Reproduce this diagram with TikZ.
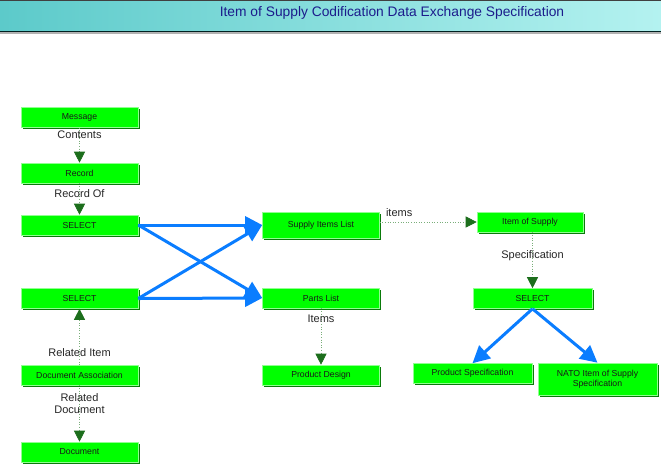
\documentclass[tikz,border=0pt]{standalone}
\usepackage{fontspec}
\setmainfont{Liberation Sans}
\usetikzlibrary{arrows.meta,shadows}

\definecolor{boxgreen}{HTML}{00FF00}
\definecolor{boxrim}{HTML}{90FF90}
\definecolor{boxshadow}{HTML}{0A7A0A}
\definecolor{linkgreen}{HTML}{7AAE7A}
\definecolor{headgreen}{HTML}{1C6E1C}
\definecolor{selblue}{HTML}{0A7DFF}
\definecolor{titleblue}{HTML}{1C1C8C}
\definecolor{barleft}{HTML}{5CCACA}
\definecolor{barright}{HTML}{B4F2F0}

\tikzset{
	entity/.style={rectangle, fill=boxgreen, draw=boxrim, line width=.6pt,
		minimum width=117pt, minimum height=20pt, inner sep=1pt, align=center,
		font=\fontsize{8.7}{9.6}\selectfont, text=black!90,
		drop shadow={shadow xshift=1.6pt, shadow yshift=-1.6pt, fill=boxshadow, opacity=1}},
	relation/.style={linkgreen, dotted, line width=.6pt,
		-{Triangle[width=11pt,length=11pt,color=headgreen]}},
	choice/.style={selblue, line width=3pt,
		-{Triangle[width=17pt,length=17pt]}},
	rolename/.style={font=\fontsize{11}{12.5}\selectfont, text=black!85, inner sep=1pt, align=center}
}

\begin{document}
\begin{tikzpicture}[x=1pt,y=-1pt]
		\useasboundingbox (0,0) rectangle (661,467);
		\fill [white] (0,0) rectangle (661,467);
		% title bar
		\shade [left color=barleft, right color=barright] (0,1) rectangle (661,31);
		\fill [black!75] (0,0) rectangle (661,1.2);
		\fill [black!75!teal] (0,30.5) rectangle (661,32);
		\fill [black!30] (0,32) rectangle (661,33.5);
		\node [font=\fontsize{13.8}{15}\selectfont, text=titleblue] (title) at (392,13) {Item of Supply Codification Data Exchange Specification};

		\node [entity] (message)  at (79.5,117.5) {Message};
		\node [entity] (record)   at (79.5,173)   {Record};
		\node [entity] (select1)  at (79.5,225)   {SELECT};
		\node [entity] (select2)  at (79.5,298.5) {SELECT};
		\node [entity] (docassoc) at (79.5,375)   {Document Association};
		\node [entity] (document) at (79.5,452)   {Document};

		\node [entity, minimum height=26pt] (supply) at (321,225) {Supply Items List};
		\node [entity] (parts)  at (321,298)   {Parts List};
		\node [entity] (design) at (321,375)   {Product Design};

		\node [entity, minimum width=106pt] (ios) at (530,222) {Item of Supply};
		\node [entity, minimum width=119pt] (select3) at (532.5,298.5) {SELECT};
		\node [entity, minimum width=119pt] (prodspec) at (472.5,373.5) {Product Specification};
		\node [entity, minimum width=119pt, minimum height=32pt] (nato) at (597.5,379) {NATO Item of Supply\\Specification};

		\draw [relation] (message) -- node [rolename, pos=.2] {Contents} (record);
		\draw [relation] (record) -- node [rolename, pos=.34] {Record Of} (select1);
		\draw [relation] (docassoc) -- node [rolename, pos=.21] {Related Item} (select2);
		\draw [relation] (docassoc) -- node [rolename, pos=.32] {Related\\Document} (document);
		\draw [relation] (parts) -- node [rolename, pos=.19] {Items} (design);
		\draw [relation] (supply.east |- ios.west) -- node [rolename, pos=.2, above=4pt] {items} (ios.west);
		\draw [relation] (ios.south -| select3.north) -- node [rolename, pos=.41] {Specification} (select3.north);

		\draw [choice] (select1.east) -- (supply.west);
		\draw [choice] (select1.east) -- (parts.west);
		\draw [choice] (select2.east) -- (supply.west);
		\draw [choice] (select2.east) -- (parts.west);
		\draw [choice] (select3.south) -- (prodspec.north);
		\draw [choice] (select3.south) -- (nato.north);
	\end{tikzpicture}
\end{document}
